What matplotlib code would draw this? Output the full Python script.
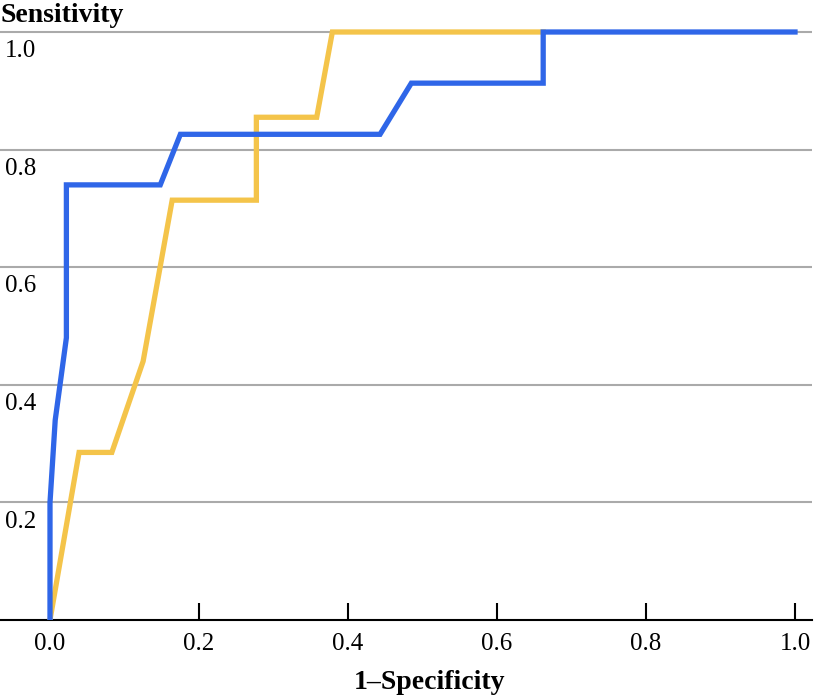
import matplotlib
matplotlib.use("Agg")
import matplotlib.pyplot as plt
from matplotlib.transforms import blended_transform_factory

# ROC curves
blue_fpr = [0.0, 0.0, 0.007, 0.022, 0.022, 0.148, 0.175, 0.443, 0.485, 0.662, 0.662, 1.0]
blue_tpr = [0.0, 0.20, 0.34, 0.48, 0.74, 0.74, 0.826, 0.826, 0.913, 0.913, 1.0, 1.0]

yellow_fpr = [0.0, 0.039, 0.083, 0.125, 0.164, 0.277, 0.277, 0.358, 0.379, 0.662]
yellow_tpr = [0.0, 0.285, 0.285, 0.44, 0.714, 0.714, 0.855, 0.855, 1.0, 1.0]

x_ticks = [0.0, 0.2, 0.4, 0.6, 0.8, 1.0]
y_ticks = [0.2, 0.4, 0.6, 0.8, 1.0]

plt.rcParams['font.family'] = ['Liberation Serif', 'DejaVu Serif']

fig = plt.figure(figsize=(8.15, 6.96), dpi=100)
# axes: pixel x 0..812, pixel y (from top) 20..620
ax = fig.add_axes([0.0, 76 / 696, 812 / 815, 600 / 696])
ax.set_xlim(-50 / 745, 762 / 745)
ax.set_ylim(0, 600 / 588)

for v in y_ticks:
    ax.axhline(v, color='#aaaaaa', lw=1.5, zorder=1)

ax.plot(yellow_fpr, yellow_tpr, color='#f4c44a', lw=3.8, zorder=3,
        solid_joinstyle='miter')
ax.plot(blue_fpr, blue_tpr, color='#2f66e8', lw=3.8, zorder=4,
        solid_joinstyle='miter')

for s in ['top', 'right', 'left']:
    ax.spines[s].set_visible(False)
ax.spines['bottom'].set_linewidth(1.5)
ax.spines['bottom'].set_color('black')
ax.set_yticks([])
ax.set_xticks(x_ticks)
ax.set_xticklabels([f"{t:.1f}" for t in x_ticks], fontsize=18)
ax.tick_params(axis='x', direction='in', length=12, width=1.5, pad=9)

tr = blended_transform_factory(ax.transAxes, ax.transData)
for v in y_ticks:
    ax.text(0.006, v - 0.014, f"{v:.1f}", transform=tr, fontsize=18,
            ha='left', va='top')

fig.text(0.0, 1 - 22 / 696, "Sensitivity", fontsize=20, fontweight='bold',
         ha='left', va='baseline')
fig.text(430 / 815, 1 - 689 / 696, "1\u2013Specificity", fontsize=20,
         fontweight='bold', ha='center', va='baseline')

fig.savefig('out.png', dpi=100)
